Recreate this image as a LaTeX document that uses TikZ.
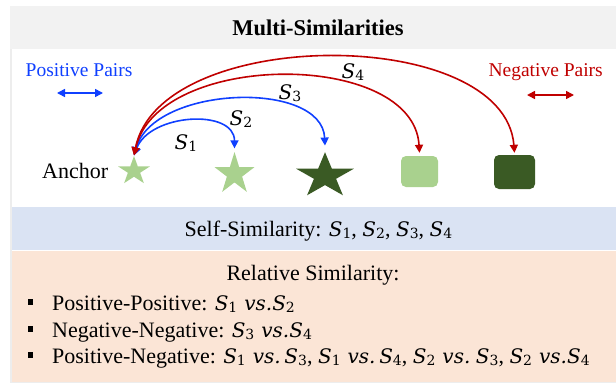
\documentclass[tikz,border=0pt]{standalone}
\usepackage{amsmath}
\usepackage{fontspec}
\setmainfont{Liberation Serif}
\newfontfamily\dvserif{DejaVu Serif}
\usetikzlibrary{shapes.geometric,arrows.meta,positioning}

\definecolor{lightgreen}{HTML}{A9D18E}
\definecolor{darkgreen}{HTML}{3A5A24}
\definecolor{pairblue}{HTML}{1040FF}
\definecolor{pairred}{HTML}{C00000}
\definecolor{framegray}{HTML}{EDEDED}
\definecolor{titlegray}{HTML}{F2F2F2}
\definecolor{selfblue}{HTML}{DAE3F3}
\definecolor{relpeach}{HTML}{FBE5D6}

% similarity symbols, set like the equation font of the original
\newcommand{\simS}[1]{{\dvserif\fontsize{20}{22}\selectfont\itshape S}\raisebox{-0.25ex}{\dvserif\fontsize{14}{15}\selectfont #1}}
\newcommand{\vsx}{\hspace{7pt}{\dvserif\fontsize{20}{22}\selectfont\itshape vs.}}

\begin{document}
\begin{tikzpicture}[x=1pt, y=-1pt,
    every node/.style={font=\fontsize{22}{26}\selectfont, inner sep=0pt},
    starnode/.style={star, star points=5, star point ratio=2.618, inner sep=0pt, transform shape},
    boxnode/.style={rounded corners=5pt, inner sep=0pt},
    simarc/.style={line width=1.6pt, {Triangle[length=8pt,width=8pt]}-{Triangle[length=8pt,width=8pt]}},
    bulletbox/.style={fill=black, minimum size=5.5pt, inner sep=0pt}]
            \useasboundingbox (0,0) rectangle (616,383);
            % panels
            \fill[framegray] (10,6) rectangle (616,383);
            \fill[titlegray] (10,6) rectangle (616,49);
            \fill[white] (12,49) rectangle (616,251);
            \fill[selfblue] (12,207) rectangle (616,250);
            \fill[relpeach] (12,251) rectangle (616,382);

            \node[font=\bfseries\fontsize{22.5}{26}\selectfont, anchor=base] (title) at (318,35) {Multi-Similarities};

            % legend
            \node[text=pairblue, font=\fontsize{19.5}{22}\selectfont, anchor=base west] (pos) at (25.5,76) {Positive Pairs};
            \node[text=pairred, font=\fontsize{19.5}{22}\selectfont, anchor=base east] (neg) at (603,76) {Negative Pairs};
            \coordinate (posl) at (57,93);
            \coordinate (posr) at (103,93);
            \coordinate (negl) at (527,95);
            \coordinate (negr) at (574,95);
            \draw[simarc, pairblue] (posl) -- (posr);
            \draw[simarc, pairred] (negl) -- (negr);

            % anchor and samples
            \node[anchor=base west] (anchortext) at (42,178) {Anchor};
            \begin{scope}[shift={(134,171)}, xscale=1.12]
                \node[starnode, fill=lightgreen, minimum size=30pt] (a) at (0,0) {};
            \end{scope}
            \begin{scope}[shift={(234.5,174)}, xscale=0.95]
                \node[starnode, fill=lightgreen, minimum size=44pt] (p1) at (0,0) {};
            \end{scope}
            \begin{scope}[shift={(325,176)}, xscale=1.28]
                \node[starnode, fill=darkgreen, minimum size=47.6pt] (p2) at (0,0) {};
            \end{scope}
            \node[boxnode, fill=lightgreen, minimum width=37pt, minimum height=31pt] (n1) at (419.5,171.5) {};
            \node[boxnode, fill=darkgreen, minimum width=41pt, minimum height=34pt] (n2) at (514.5,172) {};

            % similarities
            \draw[simarc, pairblue] (a.north) .. controls +(16,-42) and +(0,-40) .. ([yshift=3pt]p1.north);
            \draw[simarc, pairblue] (a.north) .. controls +(20,-70) and +(-3,-66) .. ([yshift=6pt]p2.north);
            \draw[simarc, pairred] (a.north) .. controls +(24,-105) and +(-6,-103) .. ([yshift=3pt]n1.north);
            \draw[simarc, pairred] (a.north) .. controls +(26,-130) and +(-10,-128) .. ([yshift=2pt]n2.north);
            \node (s1) at (186,143) {\simS{1}};
            \node (s2) at (241,119) {\simS{2}};
            \node (s3) at (290,93) {\simS{3}};
            \node (s4) at (353,72) {\simS{4}};

            % self and relative similarity
            \node[anchor=base] (self) at (318.5,236) {Self-Similarity: \simS{1}, \simS{2}, \simS{3}, \simS{4}};
            \node[anchor=base] (rel) at (313,280) {Relative Similarity:};
            \node[bulletbox] (b1) at (30.5,302) {};
            \node[bulletbox] (b2) at (30.5,329) {};
            \node[bulletbox] (b3) at (30.5,355) {};
            \node[anchor=base west] (l1) at (52,310) {Positive-Positive: \simS{1}\vsx\simS{2}};
            \node[anchor=base west] (l2) at (52,337) {Negative-Negative: \simS{3}\vsx\simS{4}};
            \node[anchor=base west] (l3) at (52,363) {Positive-Negative: \simS{1}\vsx\,\simS{3}, \simS{1}\vsx\,\simS{4}, \simS{2}\vsx\ \simS{3}, \simS{2}\vsx\simS{4}};
        \end{tikzpicture}
\end{document}
